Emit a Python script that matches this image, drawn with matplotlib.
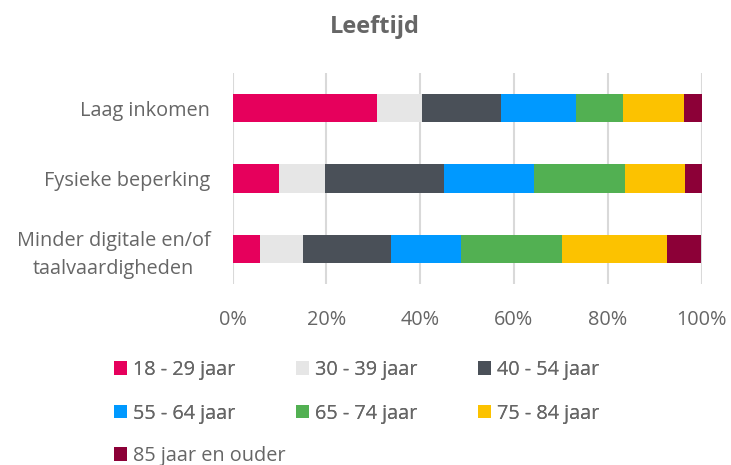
import matplotlib
matplotlib.use("Agg")
import matplotlib.pyplot as plt
import numpy as np

categories = ["Laag inkomen", "Fysieke beperking", "Minder digitale en/of\ntaalvaardigheden"]
series_names = ["18 - 29 jaar", "30 - 39 jaar", "40 - 54 jaar", "55 - 64 jaar",
                "65 - 74 jaar", "75 - 84 jaar", "85 jaar en ouder"]
values = {
    "18 - 29 jaar":     [30.8, 9.9, 5.9],
    "30 - 39 jaar":     [9.6, 9.8, 9.2],
    "40 - 54 jaar":     [16.9, 25.4, 18.7],
    "55 - 64 jaar":     [16.0, 19.2, 15.0],
    "65 - 74 jaar":     [10.0, 19.4, 21.5],
    "75 - 84 jaar":     [13.0, 12.7, 22.4],
    "85 jaar en ouder": [3.7, 3.6, 7.3],
}
colors = ["#E6005C", "#E6E6E6", "#4A5058", "#0099FF", "#52B052", "#FCC200", "#8C0037"]
x_ticks = [0, 20, 40, 60, 80, 100]

plt.rcParams['font.family'] = ['Open Sans', 'DejaVu Sans']
text_color = "#666666"
fs = 14.3

fig = plt.figure(figsize=(7.31, 4.65), dpi=100)
ax = fig.add_axes([232.5/731, 1 - 284/465, (701.5-232.5)/731, (284-73)/465])

y = np.arange(len(categories))
left = np.zeros(len(categories))
bars = []
for name, c in zip(series_names, colors):
    v = np.array(values[name])
    b = ax.barh(y, v, left=left, height=0.4, color=c, label=name, zorder=3)
    bars.append(b)
    left += v

ax.set_xlim(0, 100)
ax.set_ylim(len(categories) - 0.5, -0.5)
ax.set_yticks(y)
ax.set_yticklabels(categories, fontsize=fs, color=text_color, multialignment='center',
                   linespacing=1.5)
ax.set_xticks(x_ticks)
ax.set_xticklabels([f"{t}%" for t in x_ticks], fontsize=fs, color=text_color)
ax.tick_params(axis='both', length=0)
ax.tick_params(axis='y', pad=16)
ax.tick_params(axis='x', pad=19)
ax.grid(axis='x', color="#D9D9D9", linewidth=1.5, zorder=0)
for s in ax.spines.values():
    s.set_visible(False)
# nudge the two-line label up slightly
ax.get_yticklabels()[2].set_y(2)

fig.text(375/731, 1 - 33/465, "Leeftijd", ha='center', va='baseline', fontsize=17,
         fontweight='bold', color=text_color)

# legend: first six items in a 3x2 grid (row-major), last item on its own row
order = [0, 3, 1, 4, 2, 5]
leg_kw = dict(frameon=False, fontsize=fs, labelcolor=text_color,
              handlelength=0.65, handleheight=0.65, handletextpad=0.3,
              borderpad=0, borderaxespad=0, labelspacing=1.2, loc='upper left')
leg1 = fig.legend([bars[i] for i in order], [series_names[i] for i in order],
                  bbox_to_anchor=(114/731, 1 - 360/465), ncol=3, columnspacing=3.05,
                  **leg_kw)
fig.add_artist(leg1)
leg2 = fig.legend([bars[6]], [series_names[6]],
                  bbox_to_anchor=(114/731, 1 - 446/465), ncol=1, **leg_kw)

fig.savefig("out.png", dpi=100)
